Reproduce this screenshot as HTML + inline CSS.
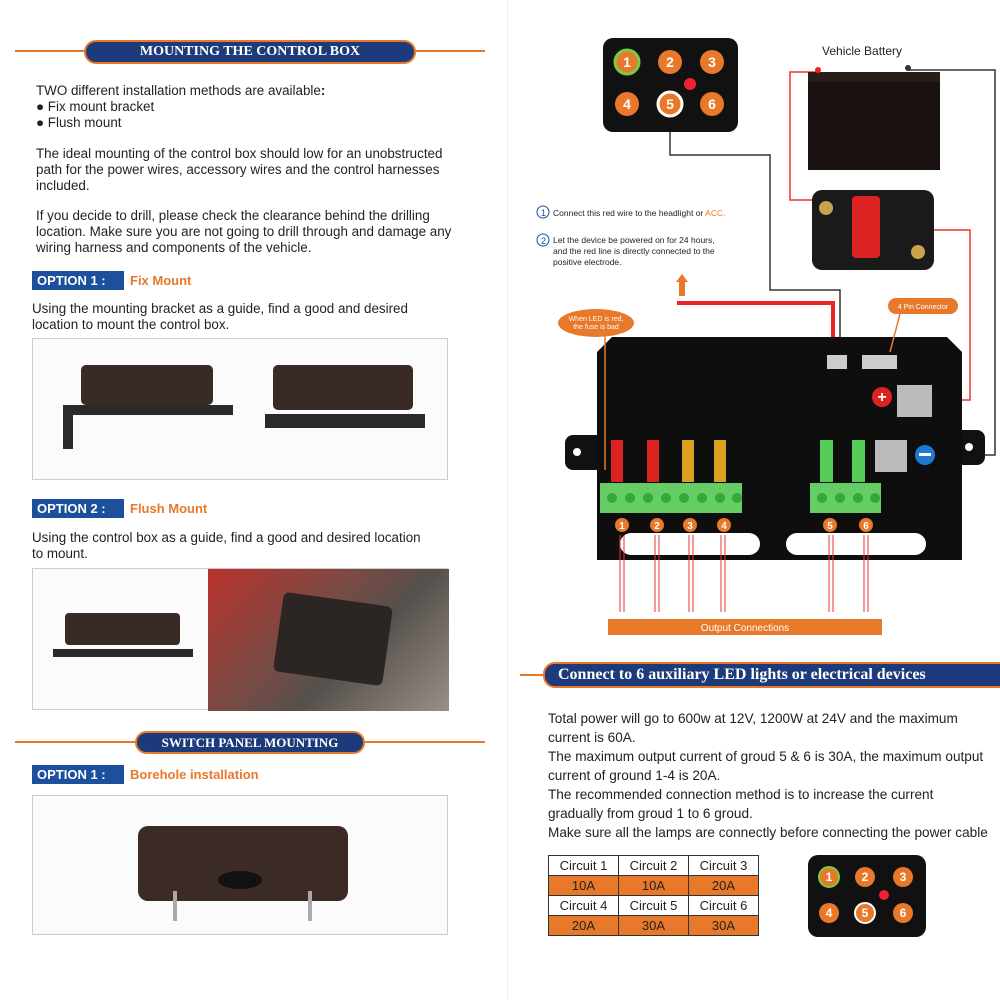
<!DOCTYPE html>
<html><head><meta charset="utf-8"><style>
*{margin:0;padding:0;box-sizing:border-box}
body{width:1000px;height:1000px;background:#fff;position:relative;overflow:hidden;font-family:"Liberation Sans",Arial,sans-serif;color:#222}
.a{position:absolute}
.t{font-size:13.4px;line-height:15.8px;white-space:nowrap}
.pill{position:absolute;background:#1d3a7a;color:#fff;border:2px solid #e8782a;border-radius:12px;font-family:"Liberation Serif",serif;font-weight:bold;text-align:center}
.opt{position:absolute;background:#1c4f9c;color:#fff;font-weight:bold;font-size:13px;padding:2px 5px;height:19px}
.ot{position:absolute;color:#e8782a;font-weight:bold;font-size:13px}
.box{position:absolute;border:1px solid #ccc;background:#fbfbfb}
</style></head><body>
<!-- left page -->
<div class="a" style="left:15px;top:50px;width:470px;height:2px;background:#e8782a"></div>
<div class="pill" style="left:84px;top:40px;width:332px;height:24px;font-size:14px;line-height:20px">MOUNTING THE CONTROL BOX</div>
<div class="a t" style="left:36px;top:83px">TWO different installation methods are available<b>:</b><br>● Fix mount bracket<br>● Flush mount</div>
<div class="a t" style="left:36px;top:146px">The ideal mounting of the control box should low for an unobstructed<br>path for the power wires, accessory wires and the control harnesses<br>included.</div>
<div class="a t" style="left:36px;top:208px">If you decide to drill, please check the clearance behind the drilling<br>location. Make sure you are not going to drill through and damage any<br>wiring harness and components of the vehicle.</div>
<div class="opt" style="left:32px;top:271px;width:92px">OPTION 1 :</div><div class="ot" style="left:130px;top:273px">Fix Mount</div>
<div class="a t" style="left:32px;top:301px">Using the mounting bracket as a guide, find a good and desired<br>location to mount the control box.</div>
<div class="box" style="left:32px;top:338px;width:416px;height:142px">
 <div class="a" style="left:48px;top:26px;width:132px;height:40px;background:#3a2a26;border-radius:5px"></div>
 <div class="a" style="left:30px;top:66px;width:170px;height:10px;background:#2a2a2a"></div>
 <div class="a" style="left:30px;top:76px;width:10px;height:34px;background:#2a2a2a"></div>
 <div class="a" style="left:240px;top:26px;width:140px;height:45px;background:#3a2a26;border-radius:5px"></div>
 <div class="a" style="left:232px;top:75px;width:160px;height:14px;background:#2a2a2a"></div>
</div>
<div class="opt" style="left:32px;top:499px;width:92px">OPTION 2 :</div><div class="ot" style="left:130px;top:501px">Flush Mount</div>
<div class="a t" style="left:32px;top:530px">Using the control box as a guide, find a good and desired location<br>to mount.</div>
<div class="box" style="left:32px;top:568px;width:416px;height:142px">
 <div class="a" style="left:32px;top:44px;width:115px;height:32px;background:#3a2a26;border-radius:4px"></div>
 <div class="a" style="left:20px;top:80px;width:140px;height:8px;background:#2a2a2a"></div>
 <div class="a" style="left:175px;top:0;width:241px;height:142px;background:linear-gradient(135deg,#b8322c,#7a4a44 40%,#55504c 60%,#9a8f88)"></div>
 <div class="a" style="left:245px;top:30px;width:110px;height:80px;background:#2b2624;border-radius:6px;transform:rotate(8deg)"></div>
</div>
<div class="a" style="left:15px;top:741px;width:470px;height:2px;background:#e8782a"></div>
<div class="pill" style="left:135px;top:731px;width:230px;height:23px;font-size:13px;line-height:19px">SWITCH PANEL MOUNTING</div>
<div class="opt" style="left:32px;top:765px;width:92px">OPTION 1 :</div><div class="ot" style="left:130px;top:767px">Borehole installation</div>
<div class="box" style="left:32px;top:795px;width:416px;height:140px">
 <div class="a" style="left:105px;top:30px;width:210px;height:75px;background:#3b2a26;border-radius:10px"></div>
 <div class="a" style="left:185px;top:75px;width:44px;height:18px;background:#111;border-radius:50%"></div>
 <div class="a" style="left:140px;top:95px;width:4px;height:30px;background:#aaa"></div>
 <div class="a" style="left:275px;top:95px;width:4px;height:30px;background:#aaa"></div>
</div>
<div class="a" style="left:507px;top:0;width:1px;height:1000px;background:#eee"></div>

<!-- right page diagram -->
<svg class="a" style="left:0;top:0" width="1000" height="660" font-family="Liberation Sans,Arial,sans-serif">
 <polyline points="670,130 670,155 770,155 770,290 840,290 840,345" fill="none" stroke="#333" stroke-width="1.5"/>
 <polyline points="818,72 790,72 790,200 815,200" fill="none" stroke="#e33" stroke-width="1.5"/>
 <polyline points="930,230 970,230 970,400 925,400" fill="none" stroke="#e33" stroke-width="1.5"/>
 <polyline points="908,70 995,70 995,455 930,455" fill="none" stroke="#333" stroke-width="1.5"/>
 <polyline points="677,303 833,303 833,352" fill="none" stroke="#e22" stroke-width="4"/>
 <path d="M676,282 l6,-8 l6,8 h-3 v14 h-6 v-14z" fill="#e8782a"/>
 <rect x="603" y="38" width="135" height="94" rx="10" fill="#111"/>
 <g font-size="14" font-weight="bold" fill="#fff" text-anchor="middle">
 <circle cx="627" cy="62" r="12" fill="#e8782a" stroke="#7c4" stroke-width="3"/><text x="627" y="67">1</text>
 <circle cx="670" cy="62" r="12" fill="#e8782a"/><text x="670" y="67">2</text>
 <circle cx="712" cy="62" r="12" fill="#e8782a"/><text x="712" y="67">3</text>
 <circle cx="627" cy="104" r="12" fill="#e8782a"/><text x="627" y="109">4</text>
 <circle cx="670" cy="104" r="12" fill="#e8782a" stroke="#fff" stroke-width="3"/><text x="670" y="109">5</text>
 <circle cx="712" cy="104" r="12" fill="#e8782a"/><text x="712" y="109">6</text>
 <circle cx="690" cy="84" r="6" fill="#e23"/></g>
 <text x="822" y="55" font-size="12" fill="#222">Vehicle Battery</text>
 <rect x="808" y="72" width="132" height="98" fill="#1a1210"/>
 <rect x="808" y="72" width="132" height="10" fill="#2a1d18"/>
 <circle cx="818" cy="70" r="3" fill="#e22"/><circle cx="908" cy="68" r="3" fill="#333"/>
 <rect x="812" y="190" width="122" height="80" rx="10" fill="#1a1a1a"/>
 <rect x="852" y="196" width="28" height="62" rx="4" fill="#d22"/>
 <circle cx="826" cy="208" r="7" fill="#c9a24a"/><circle cx="918" cy="252" r="7" fill="#c9a24a"/>
 <circle cx="543" cy="212" r="6" fill="none" stroke="#1c4f9c"/><text x="541" y="216" font-size="9" fill="#1c4f9c">1</text>
 <text x="553" y="216" font-size="8.5" fill="#222">Connect this red wire to the headlight or <tspan fill="#e8782a">ACC.</tspan></text>
 <circle cx="543" cy="240" r="6" fill="none" stroke="#1c4f9c"/><text x="541" y="244" font-size="9" fill="#1c4f9c">2</text>
 <text x="553" y="243" font-size="8.5" fill="#222">Let the device be powered on for 24 hours,</text>
 <text x="553" y="254" font-size="8.5" fill="#222">and the red line is directly connected to the</text>
 <text x="553" y="265" font-size="8.5" fill="#222">positive electrode.</text>
 <rect x="565" y="435" width="40" height="35" rx="8" fill="#111"/>
 <rect x="950" y="430" width="35" height="35" rx="8" fill="#111"/>
 <circle cx="577" cy="452" r="4" fill="#fff"/><circle cx="969" cy="447" r="4" fill="#fff"/>
 <polygon points="612,337 947,337 962,352 962,560 597,560 597,352" fill="#0e0e0e"/>
 <rect x="827" y="355" width="20" height="14" fill="#ccc"/>
 <rect x="862" y="355" width="35" height="14" fill="#ccc"/>
 <rect x="897" y="385" width="35" height="32" fill="#bbb"/>
 <circle cx="882" cy="397" r="10" fill="#d22"/><text x="882" y="402" font-size="16" font-weight="bold" fill="#fff" text-anchor="middle">+</text>
 <rect x="875" y="440" width="32" height="32" fill="#bbb"/>
 <circle cx="925" cy="455" r="10" fill="#1c7ad0"/><rect x="919" y="453" width="12" height="3" fill="#fff"/>
 <g fill="#d22"><rect x="611" y="440" width="12" height="42"/><rect x="647" y="440" width="12" height="42"/></g>
 <g fill="#d9a020"><rect x="682" y="440" width="12" height="42"/><rect x="714" y="440" width="12" height="42"/></g>
 <g fill="#5c5"><rect x="820" y="440" width="13" height="42"/><rect x="852" y="440" width="13" height="42"/></g>
 <rect x="600" y="483" width="142" height="30" fill="#6c6"/>
 <rect x="810" y="483" width="71" height="30" fill="#6c6"/>
 <g fill="#3a3">
 <circle cx="612" cy="498" r="5"/><circle cx="630" cy="498" r="5"/><circle cx="648" cy="498" r="5"/><circle cx="666" cy="498" r="5"/><circle cx="684" cy="498" r="5"/><circle cx="702" cy="498" r="5"/><circle cx="720" cy="498" r="5"/><circle cx="737" cy="498" r="5"/>
 <circle cx="822" cy="498" r="5"/><circle cx="840" cy="498" r="5"/><circle cx="858" cy="498" r="5"/><circle cx="875" cy="498" r="5"/></g>
 <rect x="620" y="533" width="140" height="22" rx="11" fill="#fff"/>
 <rect x="786" y="533" width="140" height="22" rx="11" fill="#fff"/>
 <g stroke="#e33" stroke-width="1" fill="none">
 <path d="M620,535 V612 M624,535 V612 M655,535 V612 M659,535 V612 M689,535 V612 M693,535 V612 M721,535 V612 M725,535 V612 M829,535 V612 M833,535 V612 M864,535 V612 M868,535 V612"/></g>
 <g font-size="10" font-weight="bold" fill="#fff" text-anchor="middle">
 <circle cx="622" cy="525" r="7" fill="#e8782a"/><text x="622" y="529">1</text>
 <circle cx="657" cy="525" r="7" fill="#e8782a"/><text x="657" y="529">2</text>
 <circle cx="690" cy="525" r="7" fill="#e8782a"/><text x="690" y="529">3</text>
 <circle cx="724" cy="525" r="7" fill="#e8782a"/><text x="724" y="529">4</text>
 <circle cx="830" cy="525" r="7" fill="#e8782a"/><text x="830" y="529">5</text>
 <circle cx="866" cy="525" r="7" fill="#e8782a"/><text x="866" y="529">6</text></g>
 <ellipse cx="596" cy="323" rx="38" ry="14" fill="#e8782a"/>
 <text x="596" y="321" font-size="7" fill="#fff" text-anchor="middle">When LED is red,</text>
 <text x="596" y="329" font-size="7" fill="#fff" text-anchor="middle">the fuse is bad</text>
 <line x1="605" y1="335" x2="605" y2="470" stroke="#e8782a" stroke-width="1.5"/>
 <rect x="888" y="298" width="70" height="16" rx="8" fill="#e8782a"/>
 <text x="923" y="309" font-size="7" fill="#fff" text-anchor="middle">4 Pin Connector</text>
 <line x1="900" y1="314" x2="890" y2="352" stroke="#e8782a" stroke-width="1.5"/>
 <rect x="608" y="619" width="274" height="16" fill="#e8782a"/>
 <text x="745" y="631" font-size="10" fill="#fff" text-anchor="middle">Output Connections</text>
</svg>

<div class="a" style="left:520px;top:674px;width:480px;height:2px;background:#e8782a"></div>
<div class="pill" style="left:543px;top:662px;width:470px;height:26px;font-size:16px;line-height:22px;text-align:left;padding-left:13px;white-space:nowrap">Connect to 6 auxiliary LED lights or electrical devices</div>
<div class="a t" style="left:548px;top:709px;font-size:13.6px;line-height:19px">Total power will go to 600w at 12V, 1200W at 24V and the maximum<br>current is 60A.<br>The maximum output current of groud 5 &amp; 6 is 30A, the maximum output<br>current of ground 1-4 is 20A.<br>The recommended connection method is to increase the current<br>gradually from groud 1 to 6 groud.<br>Make sure all the lamps are connectly before connecting the power cable</div>
<table class="a" style="left:548px;top:855px;border-collapse:collapse;font-size:13px;text-align:center">
<tr><td style="border:1px solid #333;width:70px;height:20px">Circuit 1</td><td style="border:1px solid #333;width:70px">Circuit 2</td><td style="border:1px solid #333;width:70px">Circuit 3</td></tr>
<tr style="background:#e8782a"><td style="border:1px solid #333;height:20px">10A</td><td style="border:1px solid #333">10A</td><td style="border:1px solid #333">20A</td></tr>
<tr><td style="border:1px solid #333;height:20px">Circuit 4</td><td style="border:1px solid #333">Circuit 5</td><td style="border:1px solid #333">Circuit 6</td></tr>
<tr style="background:#e8782a"><td style="border:1px solid #333;height:20px">20A</td><td style="border:1px solid #333">30A</td><td style="border:1px solid #333">30A</td></tr>
</table>
<svg class="a" style="left:805px;top:852px" width="125" height="88" font-family="Liberation Sans,Arial,sans-serif">
 <rect x="3" y="3" width="118" height="82" rx="10" fill="#111"/>
 <g font-size="12" font-weight="bold" fill="#fff" text-anchor="middle">
 <circle cx="24" cy="25" r="10" fill="#e8782a" stroke="#7c4" stroke-width="2"/><text x="24" y="29">1</text>
 <circle cx="60" cy="25" r="10" fill="#e8782a"/><text x="60" y="29">2</text>
 <circle cx="98" cy="25" r="10" fill="#e8782a"/><text x="98" y="29">3</text>
 <circle cx="24" cy="61" r="10" fill="#e8782a"/><text x="24" y="65">4</text>
 <circle cx="60" cy="61" r="10" fill="#e8782a" stroke="#fff" stroke-width="2"/><text x="60" y="65">5</text>
 <circle cx="98" cy="61" r="10" fill="#e8782a"/><text x="98" y="65">6</text>
 <circle cx="79" cy="43" r="5" fill="#e23"/></g>
</svg>
</body></html>
